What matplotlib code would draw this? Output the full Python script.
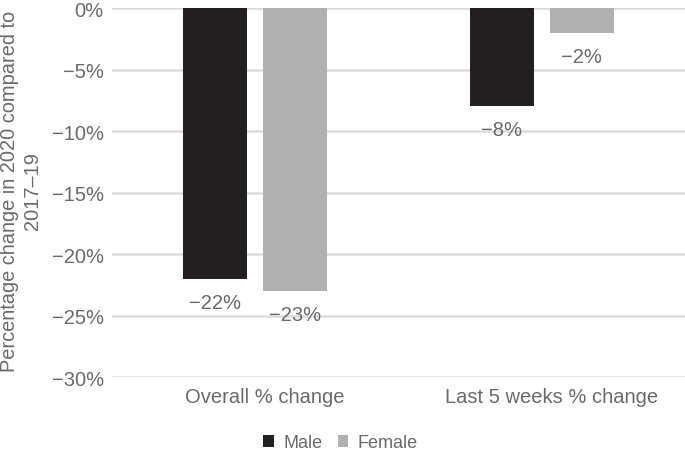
import numpy as np
import matplotlib.pyplot as plt
import matplotlib.transforms as mtransforms
from matplotlib.ticker import FuncFormatter

plt.rcParams['font.family'] = ['Liberation Sans', 'DejaVu Sans']

categories = ['Overall % change', 'Last 5 weeks % change']
male = [-22, -8]
female = [-23, -2]
series = ['Male', 'Female']
colors = ['#231f20', '#b1b1b1']
text_col = '#6a6a6d'
fs = 14.5

fig = plt.figure(figsize=(6.85, 4.52), dpi=100)
ax = fig.add_axes([0.1635, 0.1637, 0.8365, 0.8163])

x = np.arange(len(categories))
w = 0.223
off = 0.14
b1 = ax.bar(x - off, male, w, color=colors[0], label=series[0], zorder=3)
b2 = ax.bar(x + off, female, w, color=colors[1], label=series[1], zorder=3)

for bars, vals in [(b1, male), (b2, female)]:
    for b, v in zip(bars, vals):
        ax.annotate('\u2212%d%%' % abs(v), (b.get_x() + b.get_width() / 2, v),
                    xytext=(0, -10), textcoords='offset points',
                    ha='center', va='top', fontsize=fs, color=text_col)

ax.set_xlim(-0.5, 1.5)
ax.set_ylim(-30, 0)
ax.set_yticks(range(-30, 1, 5))
ax.yaxis.set_major_formatter(FuncFormatter(lambda v, p: '0%' if v == 0 else '\u2212%d%%' % abs(v)))
ax.set_xticks(x)
ax.set_xticklabels(categories)
ax.grid(axis='y', color='#dcdcdc', linewidth=1.8, zorder=0)
for s in ax.spines.values():
    s.set_visible(False)
ax.tick_params(axis='both', length=0, labelsize=fs, labelcolor=text_col)
ax.tick_params(axis='y', pad=6)
ax.tick_params(axis='x', pad=7)
# category labels sit a little right of the bar pair centres
shift = mtransforms.ScaledTranslation(7 / 72, 0, fig.dpi_scale_trans)
for lab in ax.get_xticklabels():
    lab.set_transform(lab.get_transform() + shift)

fig.text(21 / 685, 0.577, 'Percentage change in 2020 compared to\n2017\u201319',
         rotation=90, ha='center', va='center', fontsize=14.4, color=text_col,
         linespacing=1.3, multialignment='center')

fig.legend(loc='center', bbox_to_anchor=(0.497, 0.018), ncol=2, frameon=False,
           fontsize=13, labelcolor=text_col, handlelength=0.6, handleheight=0.6,
           handletextpad=0.5, columnspacing=0.85)

fig.savefig('out.png', dpi=100)
